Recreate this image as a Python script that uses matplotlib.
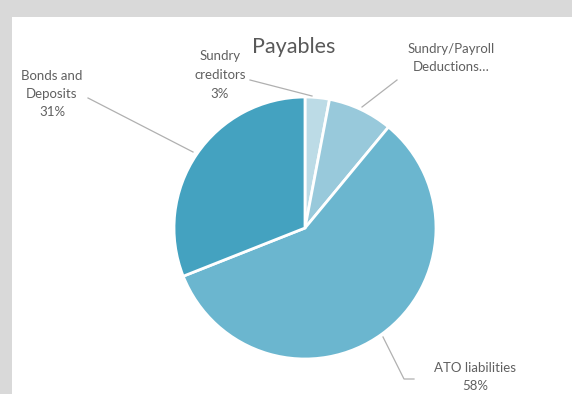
import numpy as np
import matplotlib.pyplot as plt

# Payables breakdown
categorias = ['Sundry\ncreditors', 'Sundry/Payroll\nDeductions\u2026', 'ATO liabilities', 'Bonds and\nDeposits']
valores = [3, 8, 58, 31]
mostrar_pct = [True, False, True, True]
cores = ['#bcdbe6', '#98c9db', '#6bb6cf', '#44a2c0']

W, H = 572, 394
fig = plt.figure(figsize=(W / 100, H / 100), dpi=100)
fig.patch.set_facecolor('#d9d9d9')

# painel branco do grafico
fundo = fig.add_axes([12 / W, 0, 1 - 12 / W, 1 - 17 / H])
fundo.set_facecolor('white')
fundo.set_xticks([])
fundo.set_yticks([])
for s in fundo.spines.values():
    s.set_visible(False)

cx, cy, r = 305, 228, 131
ax = fig.add_axes([(cx - r) / W, (H - cy - r) / H, 2 * r / W, 2 * r / H])
ax.pie(valores, colors=cores, startangle=90, counterclock=False, radius=1,
       wedgeprops=dict(edgecolor='white', linewidth=2))
ax.set_xlim(-1, 1)
ax.set_ylim(-1, 1)
ax.set_aspect('equal')
ax.axis('off')


def px(x, y):
    # pixel -> coordenadas do eixo da pizza
    return (x - cx) / r, (cy - y) / r


# posicao dos rotulos e das linhas de chamada (em pixels)
pos_rotulos = [(220, 75), (451, 58), (475, 377), (52, 94)]
linhas = [
    [(250, 80), (312, 96)],
    [(397, 80), (362, 107)],
    [(383, 337), (404, 379), (414, 379)],
    [(88, 98), (193, 152)],
]

cor_txt = '#606060'
for nome, v, mp, (lx, ly), pts in zip(categorias, valores, mostrar_pct, pos_rotulos, linhas):
    txt = nome + (f'\n{v}%' if mp else '')
    x, y = px(lx, ly)
    ax.text(x, y, txt, ha='center', va='center', fontsize=9.5, color=cor_txt,
            family='Lato', linespacing=1.65, clip_on=False)
    xs, ys = zip(*[px(a, b) for a, b in pts])
    ax.plot(xs, ys, color='#b0b0b0', linewidth=0.9, clip_on=False)

tx, ty = px(294, 47)
ax.text(tx, ty, 'Payables', ha='center', va='center', fontsize=15.5, color='#595959',
        family='Lato', clip_on=False)

plt.savefig('out.png', dpi=100)
